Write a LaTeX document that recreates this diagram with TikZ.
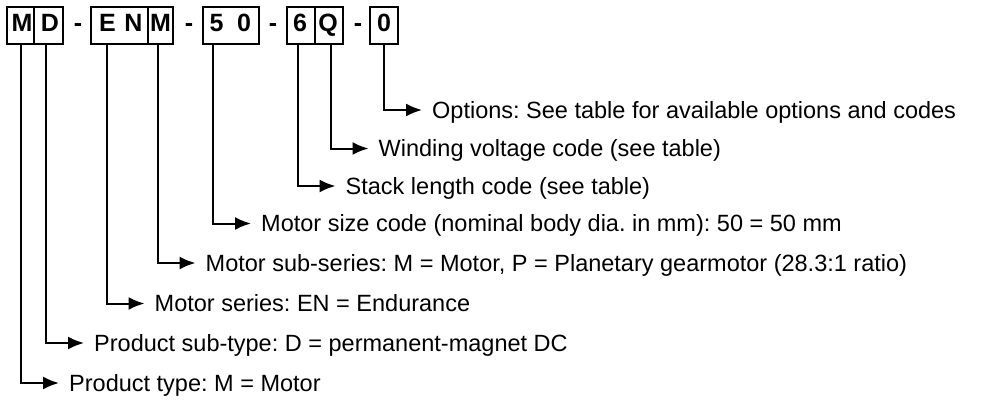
\documentclass[tikz,border=0pt]{standalone}
\usepackage{fontspec}
\setmainfont{Liberation Sans}
\usetikzlibrary{arrows.meta}
\frenchspacing
\begin{document}
\begin{tikzpicture}[x=1pt,y=-1pt,
  codebox/.style={draw, line width=2pt, inner sep=0pt, minimum height=37pt},
  letter/.style={font=\fontsize{25}{30}\selectfont\bfseries, inner sep=0pt, text height=18pt, text depth=0pt, anchor=center},
  lbl/.style={font=\fontsize{23.5}{28}\selectfont\frenchspacing, inner sep=0pt, text height=16.5pt, text depth=0pt, anchor=west},
  conn/.style={line width=2pt, -{Latex[length=16pt,width=13pt]}},
]
\useasboundingbox (0,0) rectangle (982,401);
% boxes
\node[codebox, minimum width=27pt] (bM)  at (20.5,25.5) {};
\node[codebox, minimum width=29pt] (bD)  at (48.5,25.5) {};
\node[codebox, minimum width=57pt] (bEN) at (119.5,25.5) {};
\node[codebox, minimum width=25pt] (bM2) at (160.5,25.5) {};
\node[codebox, minimum width=56pt] (b50) at (231,25.5) {};
\node[codebox, minimum width=28pt] (b6)  at (301,25.5) {};
\node[codebox, minimum width=28pt] (bQ)  at (329,25.5) {};
\node[codebox, minimum width=28pt] (b0)  at (384,25.5) {};
% letters
\node[letter] (lM)  at (22,23) {M};
\node[letter] (lD)  at (50,23) {D};
\node[letter] (lE)  at (107.5,23) {E};
\node[letter] (lN)  at (133.5,23) {N};
\node[letter] (lM2) at (160.5,23) {M};
\node[letter] (l5)  at (216.5,23) {5};
\node[letter] (l0a) at (244,23) {0};
\node[letter] (l6)  at (300,23) {6};
\node[letter] (lQ)  at (328,23) {Q};
\node[letter] (l0b) at (384,23) {0};
% dashes
\node[letter] (d1) at (78,23) {-};
\node[letter] (d2) at (189,23) {-};
\node[letter] (d3) at (273,23) {-};
\node[letter] (d4) at (358,23) {-};
% connector start points
\coordinate (pM)  at (21,44);
\coordinate (pD)  at (46,44);
\coordinate (pE)  at (106.5,44);
\coordinate (pM2) at (157.5,44);
\coordinate (p5)  at (213,44);
\coordinate (p6)  at (297.5,44);
\coordinate (pQ)  at (330.5,44);
\coordinate (p0)  at (383.5,44);
% labels
\node[lbl] (tOpt)  at (432,110)   {Options: See table for available options and codes};
\node[lbl] (tWind) at (378.5,148.5) {Winding voltage code (see table)};
\node[lbl] (tStk)  at (345.5,186) {Stack length code (see table)};
\node[lbl] (tSize) at (261,223.5) {Motor size code (nominal body dia. in mm): 50 = 50 mm};
\node[lbl] (tSub)  at (205.5,263) {Motor sub-series: M = Motor, P = Planetary gearmotor (28.3:1 ratio)};
\node[lbl] (tSer)  at (154.5,303.5) {Motor series: EN = Endurance};
\node[lbl] (tPst)  at (94,343)   {Product sub-type: D = permanent-magnet DC};
\node[lbl] (tPt)   at (69,383)   {Product type: M = Motor};
% connectors
\draw[conn] (p0)  |- ([xshift=-10pt]tOpt.west);
\draw[conn] (pQ)  |- ([xshift=-10pt]tWind.west);
\draw[conn] (p6)  |- ([xshift=-10pt]tStk.west);
\draw[conn] (p5)  |- ([xshift=-10pt]tSize.west);
\draw[conn] (pM2) |- ([xshift=-10pt]tSub.west);
\draw[conn] (pE)  |- ([xshift=-10pt]tSer.west);
\draw[conn] (pD)  |- ([xshift=-10pt]tPst.west);
\draw[conn] (pM)  |- ([xshift=-10pt]tPt.west);
\end{tikzpicture}
\end{document}
